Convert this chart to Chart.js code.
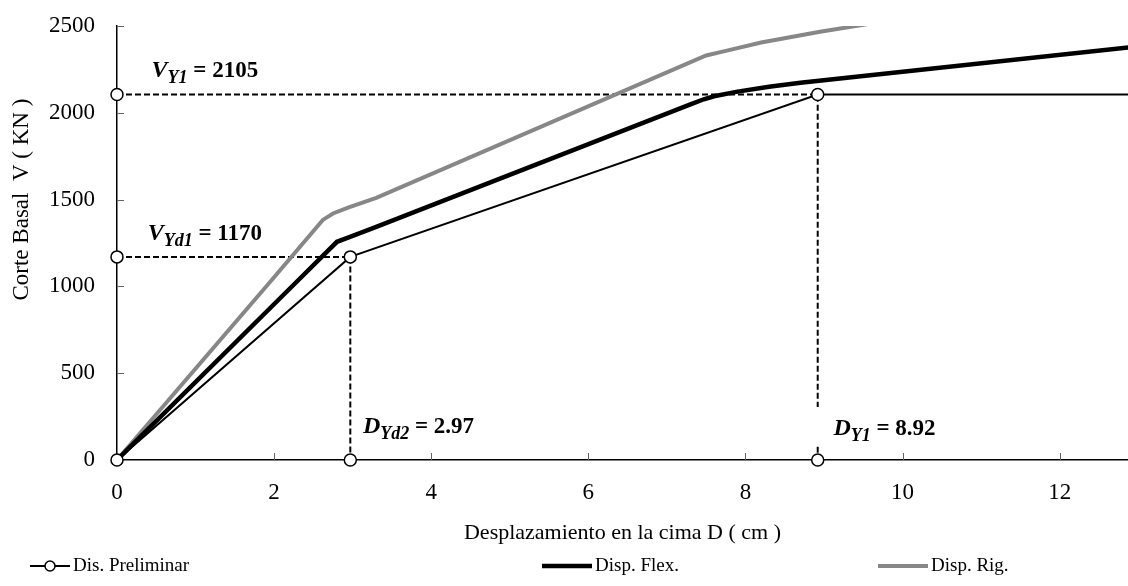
<!DOCTYPE html>
<html>
<head>
<meta charset="utf-8">
<script src="https://cdn.jsdelivr.net/npm/chart.js@4/dist/chart.umd.min.js"></script>
<style>
html, body { margin: 0; padding: 0; background: #fff; }
</style>
</head>
<body>
<canvas id="pushoverChart" width="1128" height="586"></canvas>
<script>
// key values
const vY1 = 2105, vYd1 = 1170, dYd2 = 2.97, dY1 = 8.92;

// Dis. Preliminar (bilinear)
const preX = [0, dYd2, dY1, 13.5];
const preV = [0, vYd1, vY1, vY1];

// Disp. Flex.
const flexX = [0, 2.31, 2.8, 2.95, 3.3, 7.3, 7.47, 7.6, 7.9, 8.3, 8.7, 12.9];
const flexV = [0, 1037, 1257, 1282, 1343, 2048, 2078, 2095, 2122, 2150, 2173, 2377];

// Disp. Rig.
const rigX = [0, 1.97, 2.62, 2.75, 2.95, 3.3, 7.5, 7.75, 8.2, 8.95, 10.5];
const rigV = [0, 1037, 1383, 1420, 1455, 1510, 2330, 2357, 2405, 2467, 2580];

const xTicks = [0, 2, 4, 6, 8, 10, 12];
const yTicks = [0, 500, 1000, 1500, 2000, 2500];

const serif = '"Liberation Serif", "Times New Roman", serif';

const pts = (xs, ys) => xs.map((x, i) => ({ x: x, y: ys[i] }));

const notes = [
  { sym: 'V', sub: 'Y1', val: String(vY1), x: 0.44, y: 2206 },
  { sym: 'V', sub: 'Yd1', val: String(vYd1), x: 0.39, y: 1267 },
  { sym: 'D', sub: 'Yd2', val: dYd2.toFixed(2), x: 3.13, y: 155 },
  { sym: 'D', sub: 'Y1', val: dY1.toFixed(2), x: 9.12, y: 144, box: true }
];

const noPad = s => { s.paddingLeft = 0; s.paddingRight = 0; s.paddingTop = 0; s.paddingBottom = 0; };

const extras = {
  id: 'extras',
  beforeDatasetsDraw(chart) {
    const ctx = chart.ctx, xs = chart.scales.x, ys = chart.scales.y;
    ctx.save();
    ctx.strokeStyle = '#666';
    ctx.lineWidth = 1;
    xTicks.forEach(v => {
      if (v === 0) return;
      const px = Math.round(xs.getPixelForValue(v)) + 0.5;
      ctx.beginPath(); ctx.moveTo(px, ys.bottom); ctx.lineTo(px, ys.bottom - 7); ctx.stroke();
    });
    yTicks.forEach(v => {
      if (v === 0) return;
      const py = Math.round(ys.getPixelForValue(v)) + 0.5;
      ctx.beginPath(); ctx.moveTo(xs.left, py); ctx.lineTo(xs.left + 7, py); ctx.stroke();
    });
    ctx.restore();
  },
  afterDatasetsDraw(chart) {
    const ctx = chart.ctx, xs = chart.scales.x, ys = chart.scales.y;
    ctx.save();
    ctx.textBaseline = 'alphabetic';
    ctx.textAlign = 'left';
    notes.forEach(n => {
      const px = xs.getPixelForValue(n.x), py = ys.getPixelForValue(n.y);
      const parts = [
        { t: n.sym, f: 'italic bold 24px ' + serif, dy: 0 },
        { t: n.sub, f: 'italic bold 18px ' + serif, dy: 6 },
        { t: ' = ' + n.val, f: 'bold 23px ' + serif, dy: 0 }
      ];
      let w = 0;
      parts.forEach(p => { ctx.font = p.f; w += ctx.measureText(p.t).width; });
      if (n.box) {
        ctx.fillStyle = '#fff';
        ctx.fillRect(px - 18, py - 28, w + 24, 38);
      }
      ctx.fillStyle = '#000';
      let cx = px;
      parts.forEach(p => {
        ctx.font = p.f;
        ctx.fillText(p.t, cx, py + p.dy);
        cx += ctx.measureText(p.t).width;
      });
    });
    ctx.restore();
  },
  afterDraw(chart) {
    const ctx = chart.ctx, ys = chart.scales.y, xs = chart.scales.x;
    ctx.save();
    ctx.fillStyle = '#000';
    ctx.textAlign = 'center';
    ctx.textBaseline = 'middle';
    // axis titles
    ctx.font = '22px ' + serif;
    ctx.fillText('Desplazamiento en la cima D ( cm )', (xs.left + xs.right) / 2, 533);
    ctx.save();
    ctx.translate(22, ys.getPixelForValue(1500));
    ctx.rotate(-Math.PI / 2);
    ctx.font = '23px ' + serif;
    ctx.fillText('Corte Basal  V ( KN )', 0, 0);
    ctx.restore();

    // legend
    const legendX = [30, 542, 878];
    const ly = 566;
    ctx.textAlign = 'left';
    ctx.font = '19px ' + serif;
    chart.data.datasets.slice(0, 3).forEach((ds, i) => {
      const x0 = legendX[i], x1 = x0 + (i === 0 ? 40 : 50);
      ctx.strokeStyle = ds.borderColor;
      ctx.lineWidth = ds.borderWidth;
      ctx.beginPath(); ctx.moveTo(x0, ly); ctx.lineTo(x1, ly); ctx.stroke();
      if (i === 0) {
        ctx.beginPath();
        ctx.arc((x0 + x1) / 2, ly, 5, 0, Math.PI * 2);
        ctx.fillStyle = '#fff'; ctx.fill();
        ctx.lineWidth = 1.5; ctx.strokeStyle = '#000'; ctx.stroke();
      }
      ctx.fillStyle = '#000';
      ctx.fillText(ds.label, x1 + 3, ly);
    });
    ctx.restore();
  }
};

const guide = {
  borderColor: '#000',
  borderWidth: 2,
  borderDash: [6, 3],
  pointStyle: 'circle',
  pointBackgroundColor: '#fff',
  pointBorderColor: '#000',
  pointBorderWidth: 1.5,
  clip: false
};

new Chart(document.getElementById('pushoverChart').getContext('2d'), {
  type: 'line',
  data: {
    datasets: [
      {
        label: 'Dis. Preliminar',
        data: pts(preX, preV),
        borderColor: '#000',
        borderWidth: 2,
        pointRadius: [6, 6, 6, 0],
        pointBackgroundColor: '#fff',
        pointBorderColor: '#000',
        pointBorderWidth: 1.5,
        clip: false
      },
      {
        label: 'Disp. Flex.',
        data: pts(flexX, flexV),
        borderColor: '#000',
        borderWidth: 4.5,
        pointRadius: 0,
        clip: 0
      },
      {
        label: 'Disp. Rig.',
        data: pts(rigX, rigV),
        borderColor: '#878787',
        borderWidth: 4,
        pointRadius: 0,
        clip: 0
      },
      Object.assign({ data: pts([0, dY1, dY1], [vY1, vY1, 0]), pointRadius: [6, 0, 6] }, guide),
      Object.assign({ data: pts([0, dYd2, dYd2], [vYd1, vYd1, 0]), pointRadius: [6, 0, 6] }, guide)
    ]
  },
  options: {
    responsive: false,
    animation: false,
    events: [],
    layout: { autoPadding: false, padding: { top: 26, right: 0, bottom: 0, left: 0 } },
    plugins: { legend: { display: false }, tooltip: { enabled: false } },
    scales: {
      x: {
        type: 'linear',
        min: 0,
        max: 12.87,
        afterFit: s => { s.height = 126; noPad(s); },
        grid: { display: false, drawTicks: false },
        border: { color: '#000', width: 1.5 },
        ticks: { stepSize: 2, includeBounds: false, padding: 19, color: '#000', font: { family: serif, size: 23 } }
      },
      y: {
        min: 0,
        max: 2500,
        afterFit: s => { s.width = 117; noPad(s); },
        grid: { display: false, drawTicks: false },
        border: { color: '#000', width: 1.5 },
        ticks: {
          stepSize: 500,
          padding: 22,
          color: '#000',
          font: { family: serif, size: 23 },
          callback: v => String(v)
        }
      }
    }
  },
  plugins: [extras]
});
</script>
</body>
</html>
